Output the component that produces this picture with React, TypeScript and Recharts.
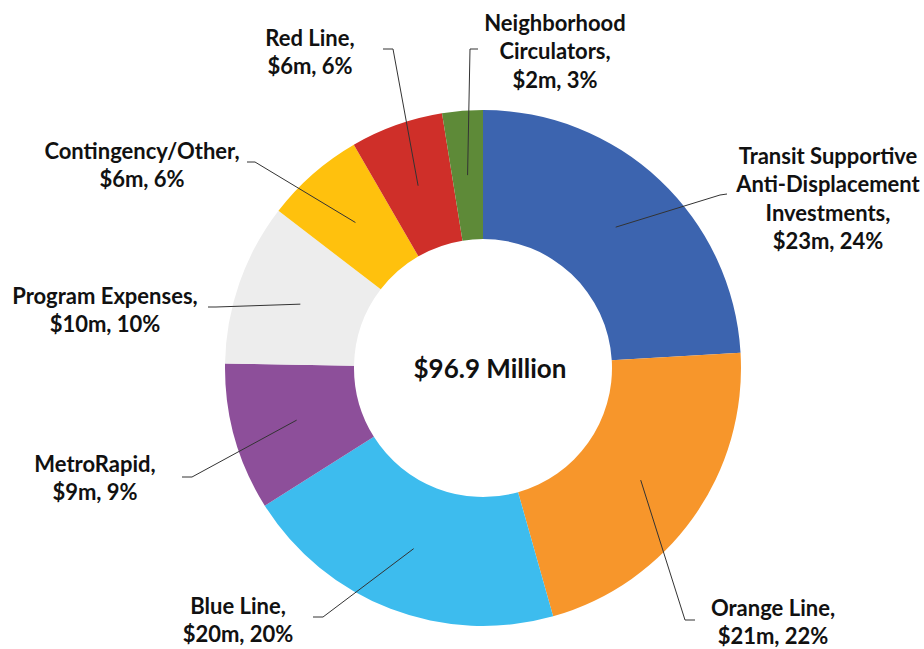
import React from "react";
import { PieChart, Pie, Cell } from "recharts";

const categories = [
  "Transit Supportive\nAnti-Displacement\nInvestments",
  "Orange Line",
  "Blue Line",
  "MetroRapid",
  "Program Expenses",
  "Contingency/Other",
  "Red Line",
  "Neighborhood\nCirculators",
];
const valuesMillions = [23.2, 20.8, 19.7, 8.9, 9.8, 6.0, 5.6, 2.45];
const centerLabel = "$96.9 Million";
const colors = ["#3C64AF", "#F7962B", "#3DBCEE", "#8D4F9A", "#EDEDED", "#FFC10D", "#CF2F29", "#5E8A38"];

// label layout: elbow point, line end, text centre, relative to chart centre
const labelLayout = [
  { elbow: [237, -173], end: [244, -174], text: [345, -213] },
  { elbow: [202, 252], end: [212, 252], text: [290, 239] },
  { elbow: [-160, 249], end: [-170, 249], text: [-245, 237] },
  { elbow: [-291, 109], end: [-301, 109], text: [-388, 95] },
  { elbow: [-267, -61], end: [-275, -61], text: [-378, -73] },
  { elbow: [-228, -206], end: [-236, -206], text: [-341, -218] },
  { elbow: [-90, -319], end: [-100, -319], text: [-173, -331] },
  { elbow: [-13, -319], end: [-5, -319], text: [72, -346] },
];

const total = valuesMillions.reduce((a, b) => a + b, 0);
const data = categories.map((name, i) => ({ name, value: valuesMillions[i] }));

const FONT = "Lato, 'Open Sans', sans-serif";
const RAD = Math.PI / 180;
const LINE_H = 28.5;

const renderLabel = (props: any) => {
  const { cx, cy, midAngle, innerRadius, outerRadius, index, value } = props;
  const lay = labelLayout[index];
  const r = (innerRadius + outerRadius) / 2;
  const sx = cx + r * Math.cos(-midAngle * RAD);
  const sy = cy + r * Math.sin(-midAngle * RAD);
  const ex = cx + lay.elbow[0];
  const ey = cy + lay.elbow[1];
  const tx = cx + lay.end[0];
  const ty = cy + lay.end[1];
  const nameLines = categories[index].split("\n");
  nameLines[nameLines.length - 1] += ",";
  const pct = Math.round((value / total) * 100);
  const lines = [...nameLines, `$${Math.round(value)}m, ${pct}%`];
  const textX = cx + lay.text[0];
  const textY = cy + lay.text[1];
  return (
    <g key={`lbl-${index}`}>
      <polyline
        points={`${sx},${sy} ${ex},${ey} ${tx},${ty}`}
        fill="none"
        stroke="#333"
        strokeWidth={1}
      />
      {lines.map((l, j) => (
        <text
          key={j}
          x={textX}
          y={textY + j * LINE_H}
          textAnchor="middle"
          dominantBaseline="central"
          fontFamily={FONT}
          fontWeight={700}
          fontSize={22}
          fill="#111"
        >
          {l}
        </text>
      ))}
    </g>
  );
};

export default function App() {
  return (
    <div style={{ position: "absolute", left: 0, top: 0, width: 924, height: 649, background: "#fff" }}>
      <PieChart width={924} height={649} margin={{ top: 0, right: 0, bottom: 0, left: 0 }}>
        <Pie
          data={data}
          dataKey="value"
          nameKey="name"
          cx={483}
          cy={368}
          innerRadius={129}
          outerRadius={258}
          startAngle={90}
          endAngle={-270}
          stroke="none"
          label={renderLabel}
          labelLine={false}
          isAnimationActive={false}
        >
          {data.map((d, i) => (
            <Cell key={d.name} fill={colors[i]} />
          ))}
        </Pie>
        <text
          x={490}
          y={368}
          textAnchor="middle"
          dominantBaseline="central"
          fontFamily={FONT}
          fontWeight={700}
          fontSize={26}
          fill="#111"
        >
          {centerLabel}
        </text>
      </PieChart>
    </div>
  );
}
